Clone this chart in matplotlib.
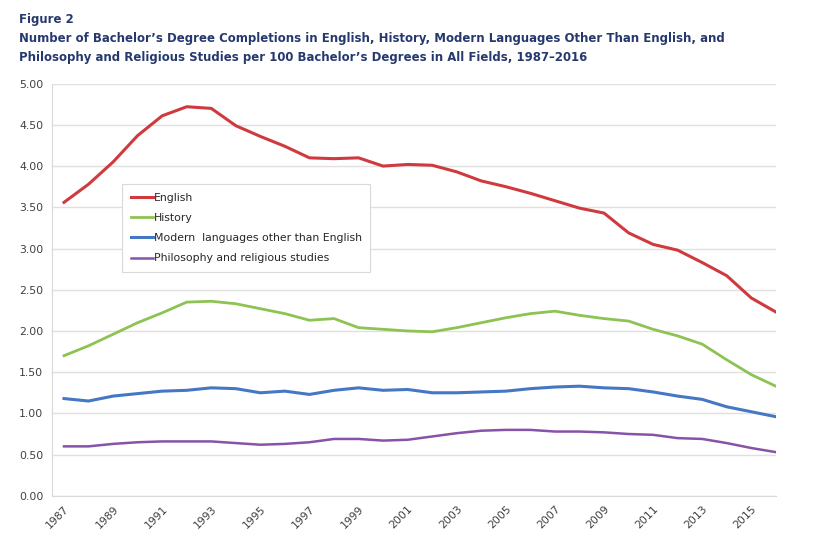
import matplotlib.pyplot as plt
from matplotlib.ticker import FormatStrFormatter

years = list(range(1987, 2017))

english = [3.56, 3.78, 4.05, 4.37, 4.61, 4.72, 4.70, 4.49, 4.36, 4.24,
           4.10, 4.09, 4.10, 4.00, 4.02, 4.01, 3.93, 3.82, 3.75, 3.67,
           3.58, 3.49, 3.43, 3.19, 3.05, 2.98, 2.83, 2.67, 2.40, 2.23]
history = [1.70, 1.82, 1.96, 2.10, 2.22, 2.35, 2.36, 2.33, 2.27, 2.21,
           2.13, 2.15, 2.04, 2.02, 2.00, 1.99, 2.04, 2.10, 2.16, 2.21,
           2.24, 2.19, 2.15, 2.12, 2.02, 1.94, 1.84, 1.65, 1.47, 1.33]
modern = [1.18, 1.15, 1.21, 1.24, 1.27, 1.28, 1.31, 1.30, 1.25, 1.27,
          1.23, 1.28, 1.31, 1.28, 1.29, 1.25, 1.25, 1.26, 1.27, 1.30,
          1.32, 1.33, 1.31, 1.30, 1.26, 1.21, 1.17, 1.08, 1.02, 0.96]
philosophy = [0.60, 0.60, 0.63, 0.65, 0.66, 0.66, 0.66, 0.64, 0.62, 0.63,
              0.65, 0.69, 0.69, 0.67, 0.68, 0.72, 0.76, 0.79, 0.80, 0.80,
              0.78, 0.78, 0.77, 0.75, 0.74, 0.70, 0.69, 0.64, 0.58, 0.53]

fig = plt.figure(figsize=(8.21, 5.54), dpi=100)
ax = fig.add_axes([0.063, 0.105, 0.882, 0.744])

ax.plot(years, english, color='#d03a3e', linewidth=2.2, label='English')
ax.plot(years, history, color='#8cc353', linewidth=2.0, label='History')
ax.plot(years, modern, color='#4478c4', linewidth=2.2, label='Modern  languages other than English')
ax.plot(years, philosophy, color='#8852a8', linewidth=1.8, label='Philosophy and religious studies')

ax.set_xlim(1986.5, 2016)
ax.set_ylim(0, 5)
ax.set_yticks([i * 0.5 for i in range(11)])
ax.yaxis.set_major_formatter(FormatStrFormatter('%.2f'))
ax.set_xticks(years[::2])
ax.set_xticklabels([str(y) for y in years[::2]], rotation=45, ha='right',
                   rotation_mode='anchor')
ax.tick_params(axis='both', length=0, labelsize=7.8, colors='#404040', pad=6)
ax.grid(axis='y', color='#e0e0e0', linewidth=1)
ax.set_axisbelow(True)
for s in ('top', 'right'):
    ax.spines[s].set_visible(False)
ax.spines['left'].set_color('#d9d9d9')
ax.spines['bottom'].set_color('#d9d9d9')

leg = ax.legend(loc='upper left', bbox_to_anchor=(0.09, 0.77), fontsize=7.8,
                handlelength=2.0, handletextpad=0.1, labelspacing=0.95,
                borderpad=0.8, fancybox=False, framealpha=1)
leg.get_frame().set_edgecolor('#d9d9d9')
leg.get_frame().set_linewidth(0.8)
for t in leg.get_texts():
    t.set_color('#262626')

navy = '#25396f'
title_kw = dict(fontsize=9.4, fontweight='bold', color=navy,
                fontstretch='condensed', va='center')
fig.text(0.023, 0.964, 'Figure 2', **title_kw)
fig.text(0.023, 0.930, 'Number of Bachelor\u2019s Degree Completions in English, History, '
         'Modern Languages Other Than English, and', **title_kw)
fig.text(0.023, 0.896, 'Philosophy and Religious Studies per 100 Bachelor\u2019s Degrees '
         'in All Fields, 1987\u20132016', **title_kw)

plt.savefig('out.png', dpi=100)
